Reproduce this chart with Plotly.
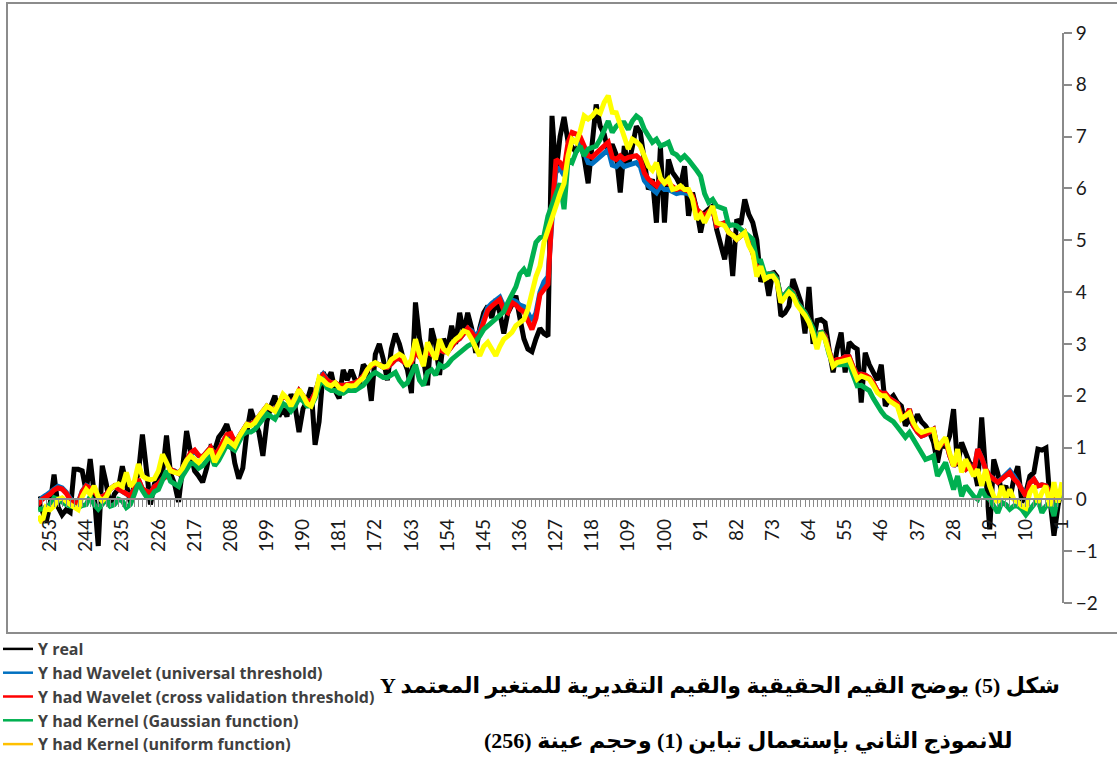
import plotly.graph_objects as go

# observation number, plotted from 256 (left) down to 1 (right)
obs = list(range(256, 0, -1))

tick_vals = [253, 244, 235, 226, 217, 208, 199, 190, 181, 172, 163, 154, 145,
             136, 127, 118, 109, 100, 91, 82, 73, 64, 55, 46, 37, 28, 19, 10, 1]

y_real = [
    0.05, -0.2, -0.45, -0.1, 0.48, -0.15, -0.3, -0.2, -0.25, 0.58,
    0.58, 0.55, 0.15, 0.78, 0.1, -0.9, 0.65, 0.3, -0.15, 0.1,
    0.2, 0.64, 0.3, -0.06, 0.3, 0.5, 1.25, 0.6, -0.1, 0.3,
    0.4, 0.5, 1.23, 0.5, 0.3, -0.05, 0.6, 1.32, 0.9, 0.55,
    0.45, 0.33, 0.6, 1.0, 0.95, 1.2, 1.3, 1.45, 1.2, 0.7,
    0.4, 0.6, 1.3, 1.74, 1.5, 1.3, 0.84, 1.5, 1.8, 2.0,
    1.6, 1.75, 1.6, 2.03, 1.8, 1.3, 1.75, 1.9, 2.16, 1.05,
    1.5, 2.45, 2.3, 2.45, 2.1, 1.95, 2.5, 2.3, 2.5, 2.3,
    2.2, 2.6, 2.5, 1.9, 2.8, 3.0, 2.7, 2.3, 2.9, 3.2,
    3.0, 2.7, 2.5, 2.05, 3.8, 3.1, 2.7, 2.2, 3.3, 3.0,
    2.4, 3.1, 2.9, 3.35, 3.0, 3.6, 3.2, 3.6, 3.3, 2.83,
    3.3, 3.6, 3.73, 3.5, 3.86, 3.6, 3.2, 3.6, 3.75, 3.93,
    3.5, 3.1, 2.9, 2.85, 3.1, 3.3, 3.2, 3.15, 7.4, 6.3,
    7.0, 7.38, 6.9, 6.8, 6.7, 6.95, 6.6, 6.1, 6.8, 7.62,
    7.2, 7.05, 6.7, 6.85, 6.65, 5.92, 6.82, 6.43, 6.8, 7.2,
    7.08, 6.6, 5.98, 6.18, 5.34, 6.8, 5.34, 6.56, 6.31, 6.2,
    6.05, 6.43, 5.47, 5.92, 5.6, 5.15, 5.53, 5.6, 5.66, 5.21,
    4.9, 4.63, 5.15, 4.31, 5.4, 5.3, 5.79, 5.5, 5.34, 5.0,
    4.2, 4.38, 3.93, 4.4, 4.3, 3.54, 3.6, 3.73, 4.25, 4.05,
    3.8, 3.2, 4.1, 3.0, 3.45, 3.47, 3.41, 2.9, 2.45, 2.9,
    3.22, 2.45, 3.03, 2.95, 2.9, 1.87, 2.83, 2.6, 2.45, 2.3,
    2.6, 1.8, 1.93, 2.0, 1.87, 1.8, 1.42, 1.55, 1.42, 1.64,
    1.5, 1.42, 1.3, 1.1, 0.71, 1.1, 1.0, 1.22, 1.74, 0.64,
    1.1, 0.9, 0.7, 0.64, 0.26, 1.58, 0.4, -0.58, 0.77, 0.5,
    0.13, 0.26, 0.0, 0.39, 0.64, -0.06, 0.13, 0.45, 0.52, 0.97,
    0.95, 0.99, 0.0, -0.7, -0.13, 0.26,
]

y_wavelet_universal = [
    -0.08, 0.03, 0.08, 0.14, 0.22, 0.25, 0.22, 0.14, 0.02, -0.05,
    -0.06, 0.16, 0.27, 0.23, 0.15, 0.05, 0.05, 0.1, 0.2, 0.26,
    0.2, 0.15, 0.1, 0.06, 0.2, 0.38, 0.2, 0.15, 0.12, 0.25,
    0.3, 0.39, 0.45, 0.57, 0.55, 0.5, 0.6, 0.75, 0.88, 0.92,
    0.84, 0.82, 0.9, 1.0, 0.85, 0.95, 1.1, 1.23, 1.25, 1.1,
    1.2, 1.35, 1.45, 1.45, 1.5, 1.6, 1.7, 1.8, 1.75, 1.72,
    1.85, 2.0, 1.95, 1.85, 1.95, 2.1, 2.0, 1.9, 1.9, 2.05,
    2.32, 2.42, 2.3, 2.25, 2.25, 2.2, 2.2, 2.22, 2.25, 2.25,
    2.3, 2.38, 2.5, 2.58, 2.62, 2.6, 2.55, 2.55, 2.62, 2.7,
    2.72, 2.65, 2.6, 2.65, 2.85, 2.75, 2.7, 2.85, 2.8, 2.75,
    2.9, 2.85, 2.85, 2.95, 3.05, 3.1, 3.2, 3.3, 3.25, 3.15,
    3.25, 3.5, 3.7, 3.78, 3.85, 3.9, 3.72, 3.68, 3.85, 3.82,
    3.75, 3.72, 3.6, 3.45, 3.6, 4.0, 4.2, 4.3, 5.4, 6.4,
    6.38, 6.25, 6.75, 6.95, 6.9, 6.85, 6.7, 6.5, 6.48, 6.55,
    6.6, 6.68, 6.75, 6.45, 6.42, 6.5, 6.42, 6.45, 6.48, 6.5,
    6.42, 6.15, 6.05, 5.98, 5.92, 6.05, 5.98, 5.98, 5.95, 5.9,
    5.92, 5.92, 5.9, 5.82, 5.58, 5.52, 5.47, 5.55, 5.6, 5.28,
    5.3, 5.34, 5.15, 5.1, 5.02, 5.1, 5.15, 4.95, 4.76, 4.45,
    4.5, 4.3, 4.35, 4.35, 4.25, 3.9, 3.95, 4.05, 4.0, 3.8,
    3.7, 3.6, 3.45, 3.25, 3.0, 3.25, 3.15, 2.85, 2.65, 2.7,
    2.7, 2.75, 2.75, 2.55, 2.4, 2.42, 2.4, 2.35, 2.25, 2.1,
    2.05, 2.05, 1.95, 1.9, 1.85, 1.6, 1.6, 1.74, 1.42, 1.3,
    1.22, 1.25, 1.3, 1.35, 0.97, 1.05, 1.16, 0.85, 0.64, 0.77,
    0.65, 0.58, 0.65, 0.52, 0.97, 0.8, 0.58, 0.45, 0.4, 0.33,
    0.4, 0.47, 0.55, 0.45, 0.34, 0.2, 0.06, 0.32, 0.39, 0.26,
    0.28, 0.26, 0.13, 0.0, 0.13, 0.13,
]

y_wavelet_cv = [
    -0.1, 0.0, 0.05, 0.1, 0.18, 0.22, 0.2, 0.12, 0.0, -0.06,
    -0.08, 0.15, 0.26, 0.22, 0.15, 0.05, 0.05, 0.1, 0.2, 0.26,
    0.2, 0.15, 0.1, 0.06, 0.2, 0.39, 0.2, 0.15, 0.12, 0.25,
    0.3, 0.39, 0.45, 0.58, 0.55, 0.5, 0.6, 0.75, 0.9, 0.95,
    0.85, 0.82, 0.9, 1.0, 0.85, 0.95, 1.1, 1.25, 1.27, 1.1,
    1.2, 1.35, 1.45, 1.45, 1.5, 1.6, 1.7, 1.8, 1.75, 1.72,
    1.85, 2.0, 1.95, 1.85, 1.95, 2.1, 2.0, 1.9, 1.9, 2.05,
    2.3, 2.4, 2.3, 2.25, 2.25, 2.2, 2.2, 2.22, 2.25, 2.25,
    2.3, 2.38, 2.5, 2.58, 2.62, 2.6, 2.55, 2.55, 2.62, 2.7,
    2.72, 2.65, 2.6, 2.65, 2.85, 2.75, 2.7, 2.85, 2.8, 2.75,
    2.9, 2.85, 2.85, 2.95, 3.05, 3.1, 3.2, 3.3, 3.22, 3.1,
    3.2, 3.45, 3.65, 3.73, 3.8, 3.86, 3.65, 3.6, 3.8, 3.75,
    3.67, 3.62, 3.45, 3.28, 3.5, 3.95, 4.05, 4.15, 5.53, 6.56,
    6.5, 6.37, 6.89, 7.08, 7.05, 7.0, 6.82, 6.63, 6.6, 6.69,
    6.75, 6.82, 6.89, 6.6, 6.56, 6.63, 6.56, 6.6, 6.62, 6.63,
    6.56, 6.3, 6.18, 6.11, 6.05, 6.18, 6.11, 6.1, 6.05, 5.98,
    6.0, 5.98, 5.95, 5.85, 5.6, 5.53, 5.47, 5.55, 5.6, 5.28,
    5.3, 5.34, 5.15, 5.1, 5.02, 5.1, 5.15, 4.95, 4.76, 4.45,
    4.5, 4.3, 4.35, 4.35, 4.25, 3.9, 3.95, 4.05, 4.0, 3.8,
    3.7, 3.6, 3.45, 3.25, 3.0, 3.25, 3.15, 2.85, 2.65, 2.7,
    2.7, 2.75, 2.75, 2.55, 2.4, 2.42, 2.4, 2.35, 2.25, 2.1,
    2.05, 2.05, 1.95, 1.9, 1.85, 1.6, 1.6, 1.74, 1.42, 1.3,
    1.22, 1.25, 1.3, 1.35, 0.97, 1.05, 1.16, 0.85, 0.64, 0.77,
    0.65, 0.58, 0.65, 0.52, 0.97, 0.8, 0.58, 0.45, 0.4, 0.33,
    0.39, 0.45, 0.52, 0.4, 0.32, 0.19, 0.06, 0.32, 0.39, 0.26,
    0.28, 0.26, 0.13, 0.0, 0.13, 0.13,
]

y_kernel_gauss = [
    -0.2, -0.18, -0.16, -0.1, 0.03, 0.0, -0.06, -0.1, -0.13, -0.15,
    -0.16, -0.12, -0.1, 0.06, -0.1, -0.19, -0.1, 0.0, -0.13, -0.1,
    0.0, -0.03, -0.16, -0.1, 0.1, 0.32, 0.17, 0.05, 0.03, 0.15,
    0.19, 0.4, 0.55, 0.35, 0.3, 0.25, 0.45, 0.6, 0.7, 0.68,
    0.6, 0.65, 0.75, 0.85, 0.65, 0.75, 0.9, 1.05, 1.0, 0.95,
    1.1, 1.25, 1.3, 1.3, 1.35, 1.45, 1.55, 1.65, 1.6, 1.55,
    1.7, 1.85, 1.8, 1.7, 1.8, 1.95, 1.9, 1.8, 1.8, 1.95,
    2.2, 2.3, 2.15, 2.1, 2.1, 2.05, 2.05, 2.1, 2.1, 2.1,
    2.15, 2.2, 2.3, 2.4, 2.45, 2.4, 2.35, 2.35, 2.4, 2.45,
    2.3, 2.2, 2.25, 2.4, 2.6, 2.3, 2.2, 2.45, 2.5, 2.4,
    2.6, 2.55, 2.6, 2.7, 2.77, 2.85, 2.9, 2.96, 3.0, 3.05,
    3.15, 3.28, 3.35, 3.42, 3.47, 3.55, 3.62, 3.8, 3.95, 4.1,
    4.35, 4.44, 4.31, 4.6, 4.96, 5.05, 5.09, 5.47, 5.7, 5.9,
    6.1, 5.6, 6.56, 6.5, 6.7, 6.82, 6.63, 6.76, 6.8, 6.82,
    6.95, 7.1, 7.3, 7.08, 7.2, 7.27, 7.27, 7.14, 7.3, 7.4,
    7.34, 7.14, 7.0, 6.89, 6.95, 6.82, 6.85, 6.89, 6.69, 6.65,
    6.56, 6.63, 6.55, 6.43, 6.35, 6.24, 5.9, 5.73, 5.79, 5.66,
    5.63, 5.6, 5.28, 5.3, 5.28, 5.21, 5.15, 5.09, 5.02, 4.6,
    4.6, 4.35, 4.35, 4.35, 4.25, 3.9, 3.95, 4.05, 3.98, 3.8,
    3.7, 3.6, 3.45, 3.3, 3.0, 3.25, 3.1, 2.8, 2.6, 2.6,
    2.6, 2.62, 2.6, 2.4, 2.19, 2.2, 2.15, 2.1, 1.95, 1.8,
    1.7, 1.6, 1.54, 1.5, 1.4, 1.29, 1.2, 1.29, 1.15, 1.03,
    0.9, 0.77, 0.8, 0.84, 0.45, 0.6, 0.71, 0.45, 0.19, 0.45,
    0.06, 0.26, 0.15, 0.06, 0.0, 0.19, 0.05, 0.0, -0.13, -0.26,
    -0.06, -0.1, -0.19, -0.13, -0.13, -0.19, -0.3, -0.19, -0.1, 0.0,
    -0.26, -0.13, -0.06, -0.32, 0.06, 0.0,
]

y_kernel_uniform = [
    -0.32, -0.45, -0.15, -0.2, -0.13, 0.0, 0.03, -0.05, -0.1, -0.15,
    -0.2, 0.05, 0.19, 0.1, 0.26, 0.05, -0.03, 0.05, 0.2, 0.26,
    0.3, 0.25, 0.52, 0.25, 0.35, 0.68, 0.45, 0.4, 0.38, 0.4,
    0.55, 0.87, 0.7, 0.55, 0.52, 0.5, 0.6, 0.75, 0.84, 0.78,
    0.71, 0.8, 0.9, 0.97, 0.72, 0.85, 1.0, 1.16, 1.1, 1.03,
    1.2, 1.35, 1.45, 1.42, 1.48, 1.6, 1.7, 1.8, 1.75, 1.7,
    1.85, 2.03, 1.95, 1.8, 1.95, 2.12, 2.0, 1.85, 1.8, 2.0,
    2.35, 2.3, 2.22, 2.19, 2.25, 2.15, 2.12, 2.2, 2.19, 2.2,
    2.28, 2.35, 2.5, 2.6, 2.64, 2.6, 2.55, 2.57, 2.7, 2.75,
    2.8, 2.75, 2.57, 2.7, 3.09, 2.8, 2.57, 3.03, 2.85, 2.7,
    3.09, 2.9, 2.83, 3.0, 3.09, 3.15, 3.25, 3.22, 3.09, 2.95,
    2.77, 2.95, 3.03, 2.9, 2.77, 2.95, 3.09, 3.15, 3.22, 3.35,
    3.4, 3.47, 3.67, 3.99, 4.3, 4.5, 4.96, 5.2, 5.4, 5.66,
    5.9, 6.1, 6.63, 6.95, 6.89, 7.1, 7.4, 7.34, 7.4, 7.5,
    7.45, 7.66, 7.79, 7.47, 7.46, 7.2, 7.01, 6.76, 6.95, 6.9,
    6.82, 6.63, 6.43, 6.35, 6.5, 6.2, 6.1, 6.18, 5.98, 6.0,
    6.05, 5.98, 5.98, 5.79, 5.4, 5.5, 5.34, 5.5, 5.66, 5.34,
    5.3, 5.28, 5.15, 5.1, 5.02, 5.1, 5.15, 4.9, 4.76, 4.3,
    4.5, 4.25, 4.3, 4.31, 4.2, 3.8, 3.9, 4.0, 3.93, 3.75,
    3.65, 3.55, 3.41, 3.2, 2.9, 3.22, 3.09, 2.8, 2.57, 2.64,
    2.65, 2.68, 2.7, 2.5, 2.32, 2.38, 2.35, 2.32, 2.2, 2.06,
    2.0, 2.0, 1.9, 1.85, 1.8, 1.55, 1.6, 1.67, 1.48, 1.35,
    1.29, 1.32, 1.34, 1.35, 0.97, 1.1, 1.19, 0.9, 0.64, 0.97,
    0.52, 0.77, 0.6, 0.45, 0.58, 0.26, 0.58, 0.26, 0.06, -0.06,
    0.26, 0.0, 0.19, 0.0, -0.05, -0.13, -0.17, 0.13, 0.26, -0.06,
    0.13, 0.26, -0.13, 0.33, -0.06, 0.33,
]

series_names = [
    "Y real",
    "Y had Wavelet (universal threshold)",
    "Y had Wavelet (cross validation threshold)",
    "Y had Kernel (Gaussian function)",
    "Y had Kernel (uniform function)",
]
series_values = [y_real, y_wavelet_universal, y_wavelet_cv, y_kernel_gauss, y_kernel_uniform]
line_colors = ["#000000", "#0070C0", "#FF0000", "#00B050", "#FFFF00"]
legend_colors = ["#000000", "#0070C0", "#FF0000", "#00B050", "#FFC000"]

fig = go.Figure()

for name, vals, col in zip(series_names, series_values, line_colors):
    fig.add_trace(go.Scatter(
        x=obs, y=vals, mode="lines", name=name, showlegend=False,
        line=dict(color=col, width=5), hoverinfo="skip",
    ))

# legend keys (the uniform-kernel key is drawn in a deeper gold)
for i, (name, col) in enumerate(zip(series_names, legend_colors)):
    fig.add_trace(go.Scatter(
        x=[None], y=[None], mode="lines", name=name, legendgroup=f"g{i}",
        line=dict(color=col, width=2.5),
    ))

# plot area occupies pixels 38..1062 horizontally, 33..603 vertically
L, T, W, H = 38, 33, 1024, 570


def px(xp):
    return (xp - L) / W


def py(yp):
    return (T + H - yp) / H


caption_font = dict(family="Liberation Serif, DejaVu Sans, serif", size=22,
                    color="#000000", weight="bold")

fig.update_layout(
    width=1117, height=760,
    margin=dict(l=L, r=1117 - L - W, t=T, b=760 - T - H, autoexpand=False),
    paper_bgcolor="white", plot_bgcolor="white",
    showlegend=True,
    legend=dict(
        x=px(-2), y=py(632), xanchor="left", yanchor="top",
        bgcolor="rgba(0,0,0,0)", tracegroupgap=0,
        font=dict(family="Open Sans, Lato, sans-serif", size=16, color="#404040", weight="bold"),
        itemwidth=30,
    ),
    xaxis=dict(
        range=[256, 1], anchor="free", position=2 / 11,
        showline=True, linecolor="#8a8a8a", linewidth=2,
        tickmode="array", tickvals=tick_vals,
        ticks="outside", ticklen=7, tickcolor="#8a8a8a", tickwidth=1,
        minor=dict(dtick=1, tick0=0, ticks="outside", ticklen=7, tickcolor="#8a8a8a", tickwidth=1),
        tickangle=-90, showgrid=False, zeroline=False, ticklabelstandoff=4,
        tickfont=dict(family="Lato, sans-serif", size=19, color="#1a1a1a"),
    ),
    yaxis=dict(
        range=[-2, 9], side="right", dtick=1, tick0=0,
        showline=True, linecolor="#8a8a8a", linewidth=2,
        ticks="outside", ticklen=8, tickcolor="#8a8a8a", tickwidth=2,
        showgrid=False, zeroline=False,
        tickfont=dict(family="Lato, sans-serif", size=19, color="#1a1a1a"),
    ),
    shapes=[dict(
        type="rect", xref="paper", yref="paper",
        x0=px(7), x1=px(1125), y0=py(633), y1=py(3),
        line=dict(color="#8c8c8c", width=2), fillcolor="rgba(0,0,0,0)", layer="below",
    )],
    annotations=[
        dict(
            text="Y شكل (5) يوضح القيم الحقيقية والقيم التقديرية للمتغير المعتمد",
            xref="paper", yref="paper", x=px(1062), y=py(686),
            xanchor="right", yanchor="middle", showarrow=False,
            font=caption_font,
        ),
        dict(
            text="للانموذج الثاني بإستعمال تباين (1) وحجم عينة (256)",
            xref="paper", yref="paper", x=px(748), y=py(741),
            xanchor="center", yanchor="middle", showarrow=False,
            font=caption_font,
        ),
    ],
)

fig.write_html("out.html")
